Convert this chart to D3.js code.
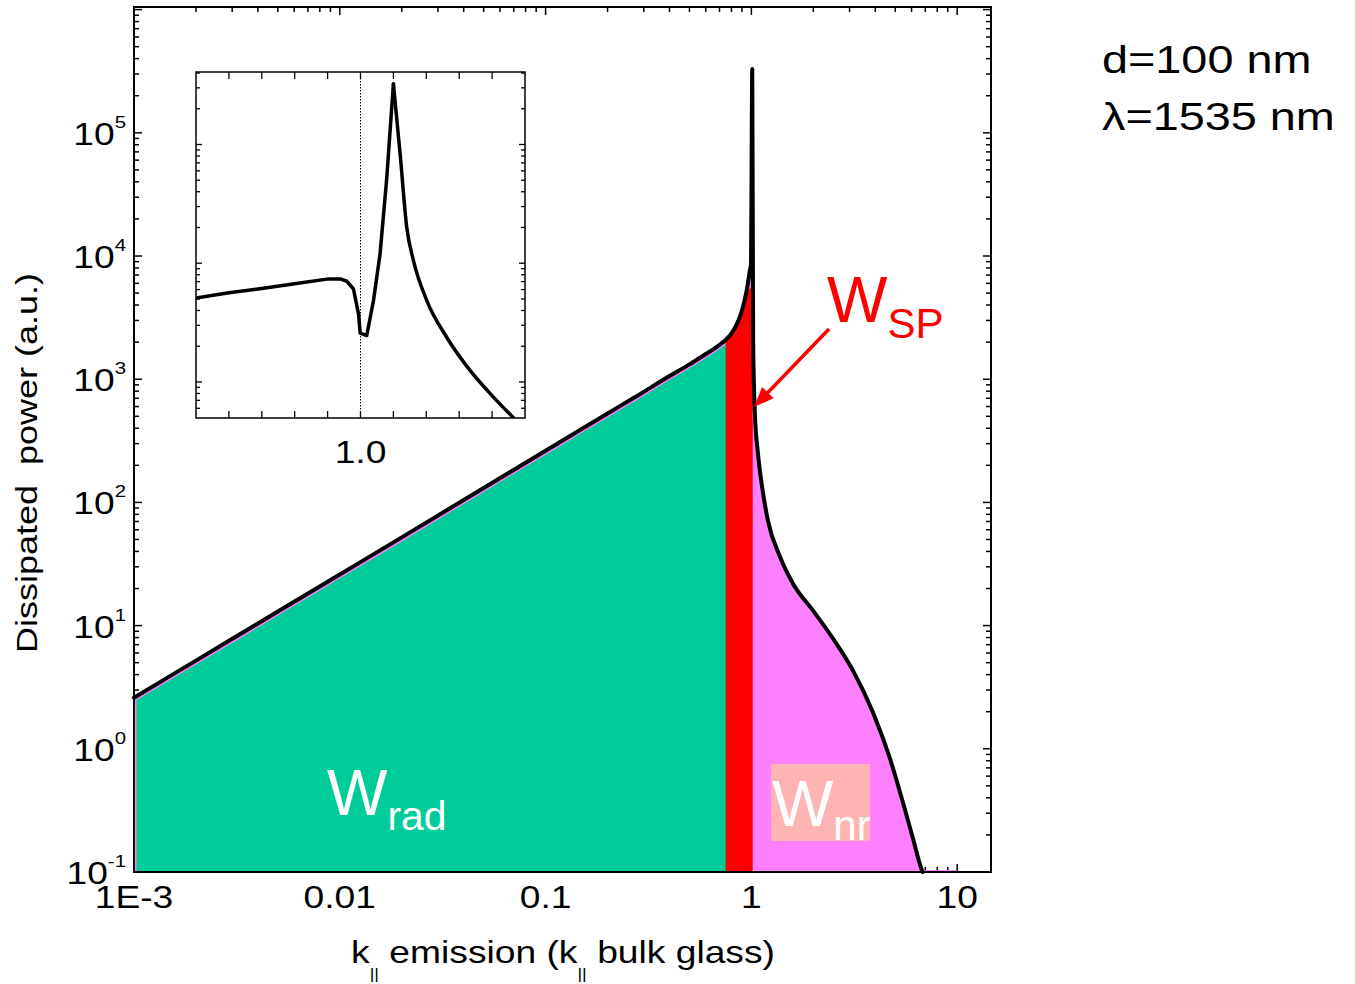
<!DOCTYPE html>
<html><head><meta charset="utf-8">
<script src="https://cdn.jsdelivr.net/npm/d3@7"></script>
<style>body{margin:0;background:#fff} svg{display:block} text{white-space:pre}</style>
</head><body><svg id="c" width="1355" height="984"></svg>
<script>
// ---------- data ----------
const curveK = [0.001,0.002,0.005,0.01,0.02,0.05,0.1,0.2,0.27,0.4,0.5,0.6,0.65,0.7,0.75,0.8,0.85,0.9,0.95,0.983,0.995,1.01,1.02,1.04,1.075,1.125,1.203,1.376,1.591,1.99,2.489,3.113,3.894,4.71,5.447,6.094,6.74,6.8];
const curveY = [2.6,5.2,13,26,52,131,263,527,710,1060,1320,1600,1740,1900,2080,2350,2800,3600,5300,7600,8600,330000,2000,525,254,137,71.3,36.4,22.0,13.3,7.87,4.33,1.98,0.838,0.368,0.188,0.1035,0.1];
const radEndK = 0.75;
const spK = [0.75,0.8,0.85,0.9,0.95,0.983,1.0,1.015];
const spY = [2030,2280,2700,3450,5000,5450,5550,5550];
const tailK = [6.8,9.9];
const tailY = [0.104,0.104];
const insetK = [0.9,0.92,0.94,0.96,0.9806,0.9877,0.9917,0.9957,0.9988,0.9998,1.0038,1.0079,1.0119,1.016,1.020,1.0241,1.0281,1.0322,1.0403,1.0524,1.0666,1.0808,1.093];
const insetY = [5100,5630,6120,6710,7380,7380,7050,6080,3750,2580,2460,4850,12000,53000,324000,83000,20100,10500,4850,2380,1250,745,499];
const xTickVals = [0.001,0.01,0.1,1,10];
const xTickLabels = ["1E-3","0.01","0.1","1","10"];
const yTickExps = [-1,0,1,2,3,4,5];
const insetLabelVal = 1.0, insetLabel = "1.0";
const xTitle = ["k","||"," emission (k","||"," bulk glass)"];
const yTitle = "Dissipated  power (a.u.)";
const infoLines = ["d=100 nm","λ=1535 nm"];

// ---------- setup ----------
const svg = d3.select("#c");
const FONT = "Arial, 'Liberation Sans', Helvetica, sans-serif";
const SX = 1.2;
const L = 134, R = 991, T = 7, B = 872;
const x = d3.scaleLog().domain([0.001, 14.6]).range([L, R]);
const y = d3.scaleLog().domain([0.1, 1.05e6]).range([B, T]);
const isMajor = v => Math.abs(Math.log10(v) - Math.round(Math.log10(v))) < 1e-9;

function stext(px, py, size, anchor, rot = 0, sx = SX) {
  return svg.append("text")
    .attr("transform", `translate(${px},${py}) rotate(${rot}) scale(${sx},1)`)
    .attr("font-family", FONT).attr("font-size", size).attr("text-anchor", anchor).attr("fill", "#000");
}

// ---------- main ticks ----------
const tk = svg.append("g").attr("stroke", "#000").attr("stroke-width", 1.5);
x.ticks().forEach(v => {
  const px = x(v), len = isMajor(v) ? 8 : 5;
  if (px <= L + 1 || px >= R - 1) return;
  tk.append("line").attr("x1", px).attr("x2", px).attr("y1", B).attr("y2", B - len);
  tk.append("line").attr("x1", px).attr("x2", px).attr("y1", T).attr("y2", T + len);
});
y.ticks().forEach(v => {
  const py = y(v), len = isMajor(v) ? 8 : 5;
  if (py >= B - 1 || py <= T + 1) return;
  tk.append("line").attr("x1", L).attr("x2", L + len).attr("y1", py).attr("y2", py);
  tk.append("line").attr("x1", R).attr("x2", R - len).attr("y1", py).attr("y2", py);
});

// ---------- fills ----------
svg.append("clipPath").attr("id", "pc").append("rect").attr("x", L).attr("y", T).attr("width", R - L).attr("height", B - T);
const fills = svg.append("g").attr("clip-path", "url(#pc)");
const pts = curveK.map((k, i) => [k, curveY[i]]);
const area = d3.area().x(d => x(d[0])).y0(B).y1(d => y(d[1])).curve(d3.curveMonotoneX);
fills.append("path").attr("d", area(pts)).attr("fill", "#FF80FF");
fills.append("path").attr("d", d3.area().x(d => x(d[0])).y0(B).y1(d => y(d[1]))(tailK.map((k, i) => [k, tailY[i]]))).attr("fill", "#FF80FF");
fills.append("path").attr("d", area(pts.filter(d => d[0] <= radEndK))).attr("fill", "#00CC99").attr("transform", "translate(2.5,2.5)");
fills.append("path").attr("d", area(spK.map((k, i) => [k, spY[i]]))).attr("fill", "#FF0000");

// frame
svg.append("rect").attr("x", L).attr("y", T).attr("width", R - L).attr("height", B - T)
  .attr("fill", "none").attr("stroke", "#000").attr("stroke-width", 2);

// curve
svg.append("path").attr("d", d3.line().x(d => x(d[0])).y(d => y(d[1])).curve(d3.curveMonotoneX)(pts))
  .attr("fill", "none").attr("stroke", "#000").attr("stroke-width", 4)
  .attr("stroke-linejoin", "round").attr("stroke-linecap", "round");

// ---------- tick labels ----------
xTickVals.forEach((v, i) => stext(x(v), 908, 31, "middle").text(xTickLabels[i]));
yTickExps.forEach(e => {
  const t = stext(126, y(Math.pow(10, e)) + 12, 31, "end");
  t.append("tspan").text("10");
  t.append("tspan").attr("font-size", 17).attr("dy", -17).text(String(e));
});

// axis titles
{
  const t = stext(563, 963, 31, "middle");
  xTitle.forEach((s, i) => {
    const ts = t.append("tspan").text(s);
    if (i % 2 === 1) ts.attr("font-size", 15).attr("dy", 16);
    else if (i > 0) ts.attr("dy", -16);
  });
}
stext(37, 463, 30, "middle", -90, 1.2).text(yTitle);

// info text
infoLines.forEach((s, i) => stext(1102, 73 + i * 57, 39, "start").text(s));

// ---------- region labels ----------
{
  const t = stext(327, 815, 64, "start", 0, 1).attr("fill", "#fff");
  t.append("tspan").text("W");
  t.append("tspan").attr("font-size", 41).attr("dy", 15).text("rad");
}
svg.append("rect").attr("x", 771).attr("y", 764).attr("width", 99).attr("height", 77).attr("fill", "#FFB4B4");
{
  const t = stext(772, 826, 65, "start", 0, 1).attr("fill", "#fff");
  t.append("tspan").text("W");
  t.append("tspan").attr("font-size", 42).attr("dy", 14).text("nr");
}
{
  const t = stext(827, 322, 64, "start", 0, 1).attr("fill", "#FF0000");
  t.append("tspan").text("W");
  t.append("tspan").attr("font-size", 42).attr("dy", 16).text("SP");
}
// arrow
{
  const x0 = 829, y0 = 329, x1 = 754, y1 = 407;
  const dx = x1 - x0, dy = y1 - y0, len = Math.hypot(dx, dy), ux = dx / len, uy = dy / len;
  const hl = 20, hw = 8;
  const bx = x1 - ux * hl, by = y1 - uy * hl;
  svg.append("line").attr("x1", x0).attr("y1", y0).attr("x2", bx + ux * 2).attr("y2", by + uy * 2)
    .attr("stroke", "#FF0000").attr("stroke-width", 3.5);
  svg.append("path").attr("d", `M${x1},${y1} L${bx - uy * hw},${by + ux * hw} L${bx + uy * hw},${by - ux * hw} Z`).attr("fill", "#FF0000");
}

// ---------- inset ----------
const IL = 196, IR = 525, IT = 72, IB = 418;
const xi = d3.scaleLinear().domain([0.9, 1.1]).range([IL, IR]);
const yi = d3.scaleLog().domain([497, 408000]).range([IB, IT]);
svg.append("rect").attr("x", IL).attr("y", IT).attr("width", IR - IL).attr("height", IB - IT).attr("fill", "#fff");
const itk = svg.append("g").attr("stroke", "#000").attr("stroke-width", 1.3);
xi.ticks(10).forEach(v => {
  const px = xi(v);
  if (px <= IL + 1 || px >= IR - 1) return;
  itk.append("line").attr("x1", px).attr("x2", px).attr("y1", IB).attr("y2", IB - 7);
  itk.append("line").attr("x1", px).attr("x2", px).attr("y1", IT).attr("y2", IT + 7);
});
yi.ticks().forEach(v => {
  const py = yi(v), len = isMajor(v) ? 6 : 4;
  if (py >= IB - 1 || py <= IT + 1) return;
  itk.append("line").attr("x1", IL).attr("x2", IL + len).attr("y1", py).attr("y2", py);
  itk.append("line").attr("x1", IR).attr("x2", IR - len).attr("y1", py).attr("y2", py);
});
svg.append("line").attr("x1", xi(1.0)).attr("x2", xi(1.0)).attr("y1", IT).attr("y2", IB)
  .attr("stroke", "#000").attr("stroke-width", 1).attr("stroke-dasharray", "1.5,1.5");
svg.append("clipPath").attr("id", "ic").append("rect").attr("x", IL).attr("y", IT).attr("width", IR - IL).attr("height", IB - IT);
const ipts = insetK.map((k, i) => [k, insetY[i]]);
const peakIdx = insetY.indexOf(d3.max(insetY));
const iline = d3.line().x(d => xi(d[0])).y(d => yi(d[1]));
const ig = svg.append("g").attr("clip-path", "url(#ic)").attr("fill", "none").attr("stroke", "#000")
  .attr("stroke-width", 3.5).attr("stroke-linejoin", "round").attr("stroke-linecap", "round");
ig.append("path").attr("d", iline(ipts.slice(0, peakIdx + 1)));
ig.append("path").attr("d", iline.curve(d3.curveMonotoneX)(ipts.slice(peakIdx)));
svg.append("rect").attr("x", IL).attr("y", IT).attr("width", IR - IL).attr("height", IB - IT)
  .attr("fill", "none").attr("stroke", "#000").attr("stroke-width", 1.5);
stext(xi(insetLabelVal), 463, 31, "middle").text(insetLabel);
</script></body></html>
